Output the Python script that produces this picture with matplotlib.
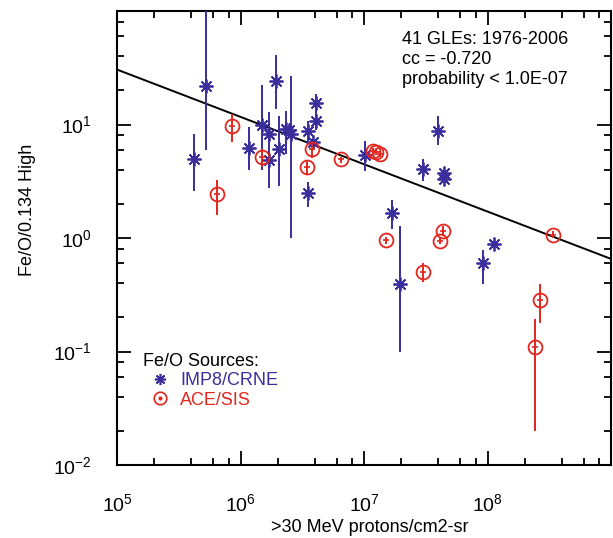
import numpy as np
import matplotlib
matplotlib.use("Agg")
import matplotlib.pyplot as plt
from matplotlib.ticker import LogLocator, NullFormatter
from matplotlib.lines import Line2D

plt.rcParams['font.family'] = ['Liberation Sans', 'DejaVu Sans']
plt.rcParams['mathtext.fontset'] = 'custom'
plt.rcParams['mathtext.rm'] = 'Liberation Sans'
plt.rcParams['mathtext.it'] = 'Liberation Sans'
plt.rcParams['mathtext.bf'] = 'Liberation Sans'

BLUE = '#3a2d9c'
RED = '#e3261e'

# IMP8/CRNE events (x = >30 MeV proton fluence, y = Fe/O / 0.134)
imp_x = [4.22e5, 5.24e5, 1.17e6, 1.48e6, 1.70e6, 1.70e6, 1.95e6, 2.04e6, 2.32e6,
         2.46e6, 2.58e6, 3.52e6, 3.86e6, 4.11e6, 4.11e6, 3.52e6, 1.01e7, 1.69e7,
         1.94e7, 3.03e7, 4.01e7, 4.43e7, 4.43e7, 9.15e7, 1.12e8]
imp_y = [4.99, 21.8, 6.24, 10.0, 8.29, 4.82, 24.0, 6.11, 9.04,
         8.95, 8.29, 8.73, 6.99, 15.4, 10.8, 2.49, 5.34, 1.66,
         0.397, 4.02, 8.73, 3.76, 3.33, 0.603, 0.893]
imp_lo = [2.58, 5.91, 3.94, 3.94, 2.75, 4.5, 13.7, 2.87, 5.52,
          8.5, 0.994, 6.99, 6.3, 12.5, 8.86, 1.87, 3.86, 1.21,
          0.0993, 3.17, 6.63, 3.6, 3.15, 0.397, 0.85]
imp_hi = [8.28, 150, 9.6, 22.5, 12.8, 5.2, 41.3, 12.0, 13.2,
          9.4, 27.0, 10.7, 7.5, 18.7, 14.1, 3.11, 7.13, 2.18,
          1.27, 4.92, 11.8, 3.95, 3.5, 0.78, 0.94]

# ACE/SIS events
ace_x = [6.47e5, 8.46e5, 1.48e6, 3.48e6, 3.82e6, 6.47e6, 1.18e7, 1.26e7, 1.34e7,
         1.51e7, 3.03e7, 4.16e7, 4.34e7, 2.43e8, 2.66e8, 3.37e8]
ace_y = [2.42, 9.66, 5.16, 4.21, 6.03, 4.92, 5.79, 5.71, 5.52,
         0.954, 0.506, 0.941, 1.15, 0.110, 0.287, 1.07]
ace_lo = [1.58, 6.99, 4.2, 3.7, 5.1, 4.6, 5.4, 5.4, 5.2,
          0.88, 0.41, 0.88, 1.05, 0.020, 0.179, 1.0]
ace_hi = [3.22, 12.4, 6.1, 4.82, 6.8, 5.2, 6.2, 6.1, 5.9,
          1.03, 0.599, 1.0, 1.27, 0.195, 0.392, 1.15]

# power-law fit: log10(y) = fit_a + fit_b * log10(x)
fit_a = 3.569
fit_b = -0.417

x_ticks = [1e5, 1e6, 1e7, 1e8, 1e9]
x_labels = ['$10^{5}$', '$10^{6}$', '$10^{7}$', '$10^{8}$', '']
y_ticks = [1e-2, 1e-1, 1e0, 1e1, 1e2]
y_labels = ['$10^{-2}$', '$10^{-1}$', '$10^{0}$', '$10^{1}$', '']

fig = plt.figure(figsize=(6.13, 5.38), dpi=100)
ax = fig.add_axes([117 / 613, 73 / 538, 494 / 613, 454 / 538])
ax.set_xscale('log')
ax.set_yscale('log')
ax.set_xlim(1e5, 1e9)
ax.set_ylim(1e-2, 1e2)

# fit line
xf = np.array(ax.get_xlim())
ax.plot(xf, 10 ** (fit_a + fit_b * np.log10(xf)), color='black', lw=1.4, zorder=2)

# IMP8 stars
ix = np.array(imp_x); iy = np.array(imp_y)
ax.errorbar(ix, iy, yerr=[iy - np.array(imp_lo), np.array(imp_hi) - iy],
            fmt='none', ecolor=BLUE, elinewidth=1.4, capsize=0, zorder=3)
ax.plot(ix, iy, ls='none', marker=(8, 2, 0), ms=10, mew=1.3, color=BLUE, zorder=3)

# ACE circles
cx = np.array(ace_x); cy = np.array(ace_y)
ax.errorbar(cx, cy, yerr=[cy - np.array(ace_lo), np.array(ace_hi) - cy],
            fmt='none', ecolor=RED, elinewidth=1.4, capsize=0, zorder=4)
ax.plot(cx, cy, ls='none', marker='o', ms=10, mew=1.3, mfc='none', mec=RED, zorder=4)
ax.plot(cx, cy, ls='none', marker='_', ms=4, mew=1.2, color=RED, zorder=4)

# axes styling
for s in ax.spines.values():
    s.set_linewidth(1.5)
ax.set_xticks(x_ticks, x_labels)
ax.set_yticks(y_ticks, y_labels)
ax.xaxis.set_minor_locator(LogLocator(base=10, subs=(2, 4, 6, 8), numticks=10))
ax.yaxis.set_minor_locator(LogLocator(base=10, subs=(2, 4, 6, 8), numticks=10))
ax.xaxis.set_minor_formatter(NullFormatter())
ax.yaxis.set_minor_formatter(NullFormatter())
ax.tick_params(which='both', direction='in', top=True, right=True, width=1.3)
ax.tick_params(which='major', length=10, labelsize=14)
ax.tick_params(which='minor', length=5)
ax.tick_params(axis='x', which='major', pad=20)
ax.tick_params(axis='y', which='major', pad=18)

fig.text(370 / 613, 1 - 527 / 538, '>30 MeV protons/cm2-sr', ha='center', va='center', fontsize=13)
fig.text(27 / 613, 1 - 210 / 538, 'Fe/O/0.134 High', ha='center', va='center',
         rotation=90, fontsize=13)

# annotation
for i, line in enumerate(['41 GLEs: 1976-2006', 'cc = -0.720', 'probability < 1.0E-07']):
    fig.text(402 / 613, 1 - (40 + 19.5 * i) / 538, line, ha='left', va='center', fontsize=13)

# legend
fig.text(143 / 613, 1 - 362 / 538, 'Fe/O Sources:', ha='left', va='center', fontsize=13)
handles = [Line2D([], [], ls='none', marker=(8, 2, 0), ms=8, mew=1.2, color=BLUE),
           (Line2D([], [], ls='none', marker='o', ms=9, mew=1.2, mfc='none', mec=RED),
            Line2D([], [], ls='none', marker='o', ms=2, color=RED))]
leg = ax.legend(handles, ['IMP8/CRNE', 'ACE/SIS'],
                loc='upper left', bbox_to_anchor=(151 / 613, 1 - 372 / 538),
                bbox_transform=fig.transFigure, frameon=False, fontsize=13,
                handlelength=1.0, handletextpad=0.6,
                labelspacing=0.15, borderpad=0, borderaxespad=0)
for t, c in zip(leg.get_texts(), [BLUE, RED]):
    t.set_color(c)

fig.savefig('out.png', dpi=100)
